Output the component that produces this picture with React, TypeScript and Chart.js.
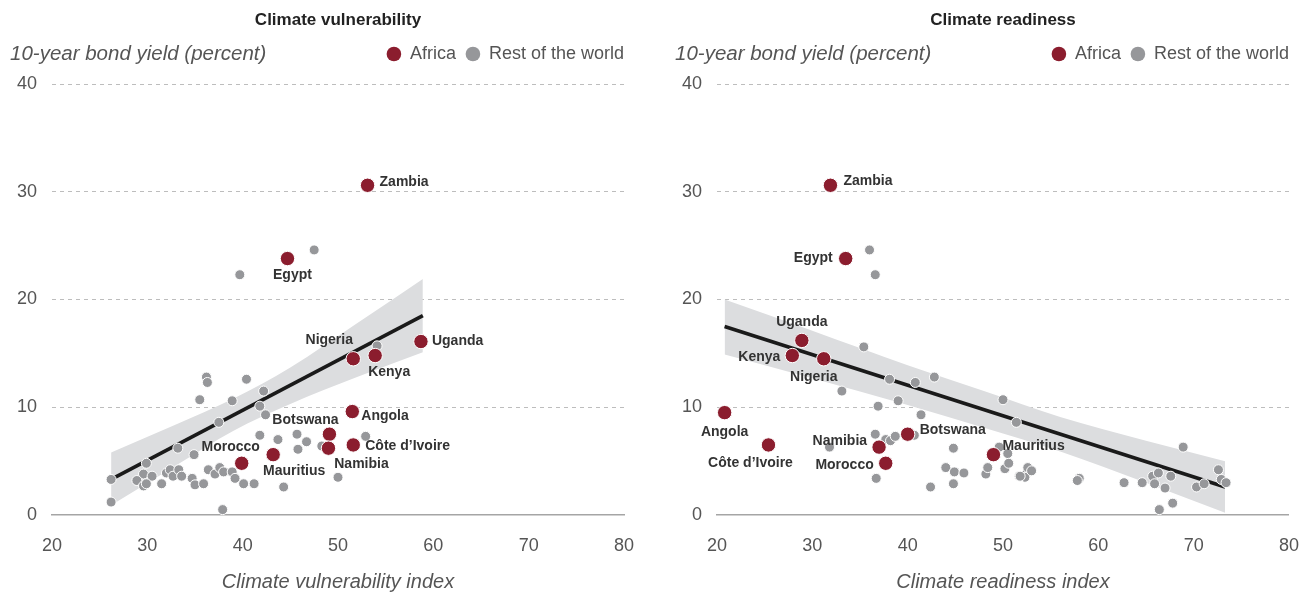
import React, { useEffect, useRef } from 'react';
import { Chart, registerables } from 'chart.js';

Chart.register(...registerables);

// ---------- DATA ----------
const africaNames = ['Zambia', 'Egypt', 'Nigeria', 'Kenya', 'Uganda', 'Angola', 'Botswana', "Côte d’Ivoire", 'Namibia', 'Mauritius', 'Morocco'];

// Climate vulnerability panel
const vulnAfricaX = [53.1, 44.7, 51.6, 53.9, 58.7, 51.5, 49.1, 51.6, 49.0, 43.2, 39.9];
const vulnAfricaY = [30.6, 23.8, 14.5, 14.8, 16.1, 9.6, 7.5, 6.5, 6.2, 5.6, 4.8];
const vulnRestX = [26.2, 26.2, 29.9, 29.6, 30.5, 28.9, 29.6, 29.9, 31.5, 32.0, 32.4, 32.7, 33.3, 33.6, 33.2, 34.7, 35.0, 35.9, 34.9, 35.5, 36.2, 36.3, 38.9, 40.4, 37.5, 36.4, 37.1, 37.6, 38.0, 38.9, 39.2, 40.1, 41.2, 37.9, 42.2, 41.8, 42.4, 41.8, 43.7, 45.7, 46.7, 45.8, 48.3, 44.3, 50.0, 52.9, 54.1, 47.5, 39.7];
const vulnRestY = [3.3, 1.2, 4.8, 3.8, 3.6, 3.2, 2.7, 2.9, 2.9, 3.9, 4.2, 3.6, 4.2, 3.6, 6.2, 3.4, 2.8, 2.9, 5.6, 10.7, 12.8, 12.3, 10.6, 12.6, 8.6, 4.2, 3.8, 4.4, 4.0, 4.0, 3.4, 2.9, 2.9, 0.5, 11.5, 10.1, 9.3, 7.4, 7.0, 7.5, 6.8, 6.1, 6.4, 2.6, 3.5, 7.3, 15.7, 24.6, 22.3];
const vulnFitX = [26.2, 58.9];
const vulnFitY = [3.3, 18.5];
const vulnBandX = [26.2, 33, 39, 45, 52, 58.9];
const vulnBandUpper = [5.8, 8.4, 10.8, 13.7, 17.8, 21.9];
const vulnBandLower = [0.9, 4.6, 7.8, 10.3, 12.8, 15.1];

// Climate readiness panel
const readyAfricaX = [31.9, 33.5, 31.2, 27.9, 28.9, 20.8, 40.0, 25.4, 37.0, 49.0, 37.7];
const readyAfricaY = [30.6, 23.8, 14.5, 14.8, 16.2, 9.5, 7.5, 6.5, 6.3, 5.6, 4.8];
const readyRestX = [36.0, 36.6, 35.4, 33.1, 38.1, 40.8, 42.8, 36.9, 39.0, 41.4, 50.0, 51.4, 36.6, 37.7, 38.2, 38.7, 40.7, 31.8, 44.8, 36.7, 42.4, 44.0, 44.9, 45.9, 44.8, 48.2, 48.4, 49.6, 50.5, 50.2, 50.6, 51.7, 52.5, 52.3, 52.6, 53.0, 51.8, 58.0, 57.8, 62.7, 64.6, 65.7, 66.3, 65.9, 67.0, 67.6, 68.9, 66.4, 67.8, 70.3, 71.1, 72.6, 72.9, 73.4];
const readyRestY = [24.6, 22.3, 15.6, 11.5, 12.6, 12.3, 12.8, 10.1, 10.6, 9.3, 10.7, 8.6, 7.5, 7.0, 6.9, 7.3, 7.4, 6.3, 6.2, 3.4, 2.6, 4.4, 4.0, 3.9, 2.9, 3.8, 4.4, 6.3, 5.7, 4.3, 4.8, 3.6, 3.9, 3.5, 4.4, 4.1, 3.6, 3.4, 3.2, 3.0, 3.0, 3.6, 3.9, 2.9, 2.5, 3.6, 6.3, 0.5, 1.1, 2.6, 2.9, 4.2, 3.3, 3.0];
const readyFitX = [20.8, 73.3];
const readyFitY = [17.5, 2.6];
const readyBandX = [20.8, 30, 40, 48, 56, 65, 73.3];
const readyBandUpper = [20.0, 17.1, 13.9, 11.5, 9.1, 6.9, 5.0];
const readyBandLower = [14.9, 12.7, 10.2, 8.1, 5.9, 3.0, 0.2];

const xTicks = [20, 30, 40, 50, 60, 70, 80];
const yTicks = [0, 10, 20, 30, 40];

// ---------- STYLE ----------
const AFRICA = '#8b1d2e';
const REST = '#96979a';
const BAND = '#dcdddf';
const FONT = '"Liberation Sans", Arial, Helvetica, sans-serif';

type LabelPos = { dx: number; dy: number; align: CanvasTextAlign };

const vulnLabelPos: Record<string, LabelPos> = {
  Zambia: { dx: 12, dy: -3, align: 'left' },
  Egypt: { dx: 5, dy: 17, align: 'center' },
  Nigeria: { dx: -24, dy: -19, align: 'center' },
  Kenya: { dx: 14, dy: 17, align: 'center' },
  Uganda: { dx: 11, dy: 0, align: 'left' },
  Angola: { dx: 9, dy: 5, align: 'left' },
  Botswana: { dx: -24, dy: -14, align: 'center' },
  "Côte d’Ivoire": { dx: 12, dy: 1, align: 'left' },
  Namibia: { dx: 33, dy: 16, align: 'center' },
  Mauritius: { dx: 21, dy: 16, align: 'center' },
  Morocco: { dx: -11, dy: -16, align: 'center' },
};

const readyLabelPos: Record<string, LabelPos> = {
  Zambia: { dx: 13, dy: -4, align: 'left' },
  Egypt: { dx: -13, dy: 0, align: 'right' },
  Nigeria: { dx: -10, dy: 18, align: 'center' },
  Kenya: { dx: -12, dy: 2, align: 'right' },
  Uganda: { dx: 0, dy: -18, align: 'center' },
  Angola: { dx: 0, dy: 20, align: 'center' },
  Botswana: { dx: 12, dy: -4, align: 'left' },
  "Côte d’Ivoire": { dx: -18, dy: 18, align: 'center' },
  Namibia: { dx: -12, dy: -6, align: 'right' },
  Mauritius: { dx: 9, dy: -9, align: 'left' },
  Morocco: { dx: -12, dy: 2, align: 'right' },
};

type PanelDef = {
  title: string;
  xTitle: string;
  africaX: number[];
  africaY: number[];
  restX: number[];
  restY: number[];
  fitX: number[];
  fitY: number[];
  bandX: number[];
  bandUpper: number[];
  bandLower: number[];
  labelPos: Record<string, LabelPos>;
  width: number;
  padRight: number;
};

const zip = (xs: number[], ys: number[]) => xs.map((x, i) => ({ x, y: ys[i] }));

function makeConfig(p: PanelDef): any {
  const decor = {
    id: 'decor',
    afterDatasetsDraw(chart: any) {
      const ctx = chart.ctx;
      const meta = chart.getDatasetMeta(0);
      ctx.save();
      ctx.font = `bold 14px ${FONT}`;
      ctx.fillStyle = '#333';
      ctx.textBaseline = 'middle';
      meta.data.forEach((pt: any, i: number) => {
        const name = africaNames[i];
        const pos = p.labelPos[name];
        ctx.textAlign = pos.align;
        ctx.fillText(name, pt.x + pos.dx, pt.y + pos.dy);
      });
      ctx.restore();
    },
    afterDraw(chart: any) {
      const ctx = chart.ctx;
      const { left, right } = chart.chartArea;
      ctx.save();
      ctx.textBaseline = 'middle';
      // title
      ctx.font = `bold 17px ${FONT}`;
      ctx.fillStyle = '#222';
      ctx.textAlign = 'center';
      ctx.fillText(p.title, (left + right) / 2, 20);
      // y-axis label
      ctx.font = `italic 20.5px ${FONT}`;
      ctx.fillStyle = '#555';
      ctx.textAlign = 'left';
      ctx.fillText('10-year bond yield (percent)', 10, 54);
      // legend
      ctx.font = `18px ${FONT}`;
      const restText = 'Rest of the world';
      const afText = 'Africa';
      const wRest = ctx.measureText(restText).width;
      const wAf = ctx.measureText(afText).width;
      const restStart = right - wRest;
      const restDot = restStart - 16;
      const afEnd = restDot - 17;
      const afStart = afEnd - wAf;
      const afDot = afStart - 16;
      ctx.fillStyle = '#555';
      ctx.fillText(restText, restStart, 54);
      ctx.fillText(afText, afStart, 54);
      ctx.beginPath();
      ctx.arc(afDot, 54, 7.3, 0, Math.PI * 2);
      ctx.fillStyle = AFRICA;
      ctx.fill();
      ctx.beginPath();
      ctx.arc(restDot, 54, 7.3, 0, Math.PI * 2);
      ctx.fillStyle = REST;
      ctx.fill();
      ctx.restore();
    },
  };

  return {
    type: 'scatter',
    data: {
      datasets: [
        {
          label: 'Africa',
          data: zip(p.africaX, p.africaY),
          backgroundColor: AFRICA,
          borderColor: '#ffffff',
          borderWidth: 1,
          pointRadius: 7.2,
        },
        {
          label: 'Rest of the world',
          data: zip(p.restX, p.restY),
          backgroundColor: REST,
          borderColor: '#ffffff',
          borderWidth: 1,
          pointRadius: 5,
        },
        {
          type: 'line',
          label: 'fit',
          data: zip(p.fitX, p.fitY),
          borderColor: '#1a1a1a',
          borderWidth: 3.6,
          pointRadius: 0,
          fill: false,
        },
        {
          type: 'line',
          label: 'upper',
          data: zip(p.bandX, p.bandUpper),
          borderWidth: 0,
          borderColor: 'rgba(0,0,0,0)',
          backgroundColor: BAND,
          pointRadius: 0,
          cubicInterpolationMode: 'monotone',
          fill: 4,
        },
        {
          type: 'line',
          label: 'lower',
          data: zip(p.bandX, p.bandLower),
          borderWidth: 0,
          borderColor: 'rgba(0,0,0,0)',
          pointRadius: 0,
          cubicInterpolationMode: 'monotone',
          fill: false,
        },
      ],
    },
    options: {
      responsive: false,
      animation: false,
      events: [],
      devicePixelRatio: 1,
      layout: { padding: { left: 0, right: p.padRight, top: 84, bottom: 0 } },
      plugins: {
        legend: { display: false },
        title: { display: false },
        tooltip: { enabled: false },
      },
      scales: {
        x: {
          type: 'linear',
          min: 20,
          max: 80,
          afterBuildTicks: (s: any) => {
            s.ticks = xTicks.map((v) => ({ value: v }));
          },
          afterFit: (s: any) => {
            s.height = 77;
          },
          ticks: { color: '#555', font: { family: FONT, size: 18 }, padding: 20 },
          grid: { display: false, drawTicks: false },
          border: { display: true, color: '#a5a5a5', width: 1.5 },
          title: {
            display: true,
            text: p.xTitle,
            color: '#555',
            font: { family: FONT, size: 20, style: 'italic', lineHeight: 1.0 },
            padding: { top: 0, bottom: 0 },
          },
        },
        y: {
          type: 'linear',
          min: 0,
          max: 40,
          afterBuildTicks: (s: any) => {
            s.ticks = yTicks.map((v) => ({ value: v }));
          },
          afterFit: (s: any) => {
            s.width = 52;
          },
          ticks: { color: '#555', font: { family: FONT, size: 18 }, padding: 15 },
          grid: {
            drawTicks: false,
            color: (c: any) => (c.tick && c.tick.value === 0 ? 'rgba(0,0,0,0)' : '#bdbdbd'),
            lineWidth: 1,
          },
          border: { display: false, dash: [4, 4] },
        },
      },
    },
    plugins: [decor],
  };
}

const panels: PanelDef[] = [
  {
    title: 'Climate vulnerability',
    xTitle: 'Climate vulnerability index',
    africaX: vulnAfricaX,
    africaY: vulnAfricaY,
    restX: vulnRestX,
    restY: vulnRestY,
    fitX: vulnFitX,
    fitY: vulnFitY,
    bandX: vulnBandX,
    bandUpper: vulnBandUpper,
    bandLower: vulnBandLower,
    labelPos: vulnLabelPos,
    width: 665,
    padRight: 41,
  },
  {
    title: 'Climate readiness',
    xTitle: 'Climate readiness index',
    africaX: readyAfricaX,
    africaY: readyAfricaY,
    restX: readyRestX,
    restY: readyRestY,
    fitX: readyFitX,
    fitY: readyFitY,
    bandX: readyBandX,
    bandUpper: readyBandUpper,
    bandLower: readyBandLower,
    labelPos: readyLabelPos,
    width: 654,
    padRight: 30,
  },
];

function Panel({ def }: { def: PanelDef }) {
  const ref = useRef<HTMLCanvasElement | null>(null);
  useEffect(() => {
    if (!ref.current) return;
    const chart = new Chart(ref.current, makeConfig(def));
    return () => chart.destroy();
  }, [def]);
  return (
    <canvas
      ref={ref}
      width={def.width}
      height={592}
      style={{ display: 'block', width: def.width, height: 592, flexShrink: 0 }}
    />
  );
}

export default function App() {
  return (
    <div
      style={{
        position: 'absolute',
        top: 0,
        left: 0,
        width: 1301,
        height: 592,
        display: 'flex',
        background: '#ffffff',
        overflow: 'hidden',
      }}
    >
      {panels.map((p) => (
        <Panel key={p.title} def={p} />
      ))}
    </div>
  );
}
